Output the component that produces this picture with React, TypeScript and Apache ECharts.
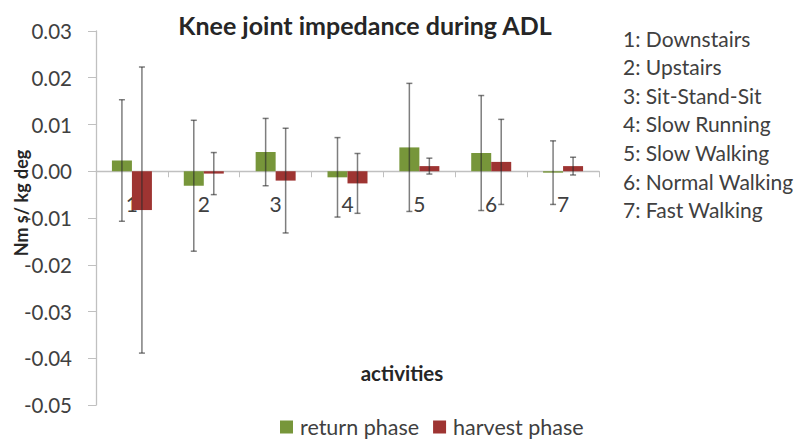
import React, { useEffect, useRef } from "react";
import * as echarts from "echarts";

const categories = ["1", "2", "3", "4", "5", "6", "7"];
const returnPhase = [0.0023, -0.0031, 0.0041, -0.0013, 0.0051, 0.0039, -0.0003];
const returnErr = [0.013, 0.014, 0.0072, 0.0085, 0.0137, 0.0123, 0.0068];
const harvestPhase = [-0.0083, -0.0005, -0.002, -0.0026, 0.0011, 0.002, 0.0011];
const harvestErr = [0.0306, 0.0045, 0.0112, 0.0064, 0.0017, 0.0091, 0.0019];
const activityNames = [
  "1: Downstairs",
  "2: Upstairs",
  "3: Sit-Stand-Sit",
  "4: Slow Running",
  "5: Slow Walking",
  "6: Normal Walking",
  "7: Fast Walking",
];

const FONT = "Lato, 'Open Sans', sans-serif";
const GREEN = "#77963a";
const RED = "#9e3432";

function errSeries(name: string, vals: number[], errs: number[], offset: number) {
  return {
    type: "custom",
    name,
    z: 10,
    silent: true,
    data: vals.map((v, i) => [i, v, errs[i]]),
    encode: { x: 0, y: 1 },
    renderItem: (params: any, api: any) => {
      const idx = api.value(0);
      const v = api.value(1);
      const e = api.value(2);
      const cx = api.coord([idx, v])[0] + offset;
      const yt = api.coord([idx, v + e])[1];
      const yb = api.coord([idx, v - e])[1];
      const style = { stroke: "rgba(40,40,40,0.6)", lineWidth: 1.5 };
      return {
        type: "group",
        children: [
          { type: "line", shape: { x1: cx, y1: yt, x2: cx, y2: yb }, style },
          { type: "line", shape: { x1: cx - 3, y1: yt, x2: cx + 3, y2: yt }, style },
          { type: "line", shape: { x1: cx - 3, y1: yb, x2: cx + 3, y2: yb }, style },
        ],
      };
    },
  };
}

export default function App() {
  const ref = useRef<HTMLDivElement>(null);
  useEffect(() => {
    if (!ref.current) return;
    const chart = echarts.init(ref.current, null, { renderer: "svg" });
    chart.setOption({
      animation: false,
      backgroundColor: "#ffffff",
      textStyle: { fontFamily: FONT },
      title: {
        text: "Knee joint impedance during ADL",
        left: 360,
        top: 7,
        textAlign: "center",
        textStyle: { fontFamily: FONT, fontSize: 25, fontWeight: "bold", color: "#262626" },
      },
      grid: { left: 96, right: 202, top: 31, bottom: 38 },
      legend: {
        left: 280,
        top: 416,
        padding: 0,
        itemWidth: 13,
        itemHeight: 13,
        itemGap: 14,
        icon: "rect",
        data: ["return phase", "harvest phase"],
        textStyle: { fontFamily: FONT, fontSize: 21.5, color: "#404040", padding: [0, 0, 0, 2] },
      },
      xAxis: {
        type: "category",
        data: categories,
        axisLine: { onZero: true, lineStyle: { color: "#c0c0c0", width: 1.3 } },
        axisTick: { show: true, length: 6, lineStyle: { color: "#c0c0c0" } },
        axisLabel: {
          margin: -202,
          verticalAlign: "middle",
          fontSize: 21,
          color: "#404040",
          fontFamily: FONT,
        },
        splitLine: { show: false },
      },
      yAxis: {
        type: "value",
        min: -0.05,
        max: 0.03,
        interval: 0.01,
        axisLine: { show: true, lineStyle: { color: "#c0c0c0", width: 1.3 } },
        axisTick: { show: true, length: 8, lineStyle: { color: "#c0c0c0" } },
        axisLabel: {
          margin: 24,
          fontSize: 20.5,
          color: "#404040",
          fontFamily: FONT,
          formatter: (v: number) => v.toFixed(2),
        },
        splitLine: { show: false },
      },
      series: [
        {
          type: "bar",
          name: "return phase",
          data: returnPhase,
          barWidth: 20,
          barGap: "0%",
          itemStyle: { color: GREEN },
        },
        {
          type: "bar",
          name: "harvest phase",
          data: harvestPhase,
          barWidth: 20,
          barGap: "0%",
          itemStyle: { color: RED },
        },
        errSeries("return err", returnPhase, returnErr, -10),
        errSeries("harvest err", harvestPhase, harvestErr, 10),
      ],
      graphic: [
        {
          type: "text",
          x: 21,
          y: 203,
          rotation: Math.PI / 2,
          style: {
            text: "Nm s/ kg deg",
            fontFamily: FONT,
            fontSize: 18,
            fontWeight: "bold",
            fill: "#262626",
            textAlign: "center",
            textVerticalAlign: "middle",
          },
        },
        {
          type: "text",
          x: 402,
          y: 373,
          style: {
            text: "activities",
            fontFamily: FONT,
            fontSize: 20.5,
            fontWeight: "bold",
            fill: "#262626",
            textAlign: "center",
            textVerticalAlign: "middle",
          },
        },
        ...activityNames.map((t, i) => ({
          type: "text",
          x: 623,
          y: 38 + i * 28.6,
          style: {
            text: t,
            fontFamily: FONT,
            fontSize: 21,
            fill: "#404040",
            textAlign: "left",
            textVerticalAlign: "middle",
          },
        })),
      ],
    });
    return () => chart.dispose();
  }, []);
  return <div ref={ref} style={{ width: 801, height: 443, position: "absolute", left: 0, top: 0 }} />;
}
